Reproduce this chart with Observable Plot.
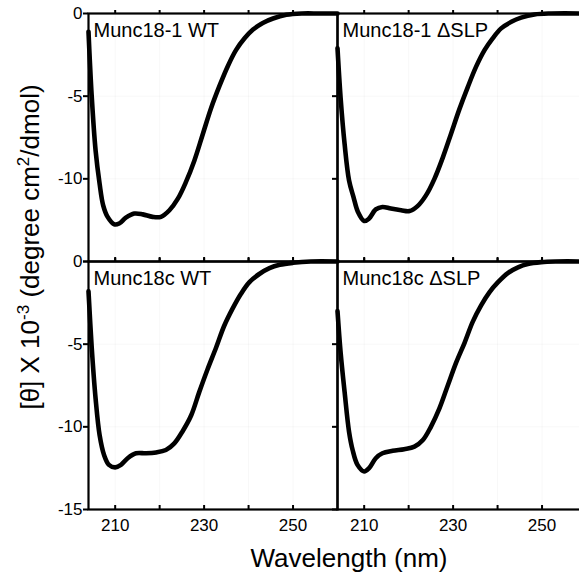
<!DOCTYPE html>
<html>
<head>
<meta charset="utf-8">
<script src="https://cdn.jsdelivr.net/npm/d3@7"></script>
<script src="https://cdn.jsdelivr.net/npm/@observablehq/plot@0.6"></script>
<style>
  body { margin: 0; background: #fff; }
  #wrap { width: 579px; height: 578px; overflow: hidden; position: relative; background: #fff; }
  #wrap svg { max-width: none !important; }
</style>
</head>
<body>
<div id="wrap"></div>
<script>
// Panels
const panelNames = ["Munc18-1 WT", "Munc18-1 ΔSLP", "Munc18c WT", "Munc18c ΔSLP"];
const panelCols = ["L", "R", "L", "R"];
const panelRows = ["T", "T", "B", "B"];

// Munc18-1 WT
const wl181WT = [204, 204.7, 205.6, 206.5, 207.3, 208.3, 209.8, 210.9, 212.4, 214.3, 216.2, 218.4, 220.3, 222.2, 224.1, 225.9, 227.8, 229.7, 231.6, 233.5, 235.3, 237.2, 239.1, 241.0, 243.2, 245.5, 248.5, 252, 256, 260];
const th181WT = [-1.1, -4.9, -8.3, -10.3, -11.6, -12.3, -12.75, -12.7, -12.35, -12.1, -12.15, -12.3, -12.3, -11.9, -11.2, -10.2, -8.9, -7.3, -5.7, -4.35, -3.2, -2.2, -1.5, -0.97, -0.57, -0.3, -0.08, 0, 0, 0];
// Munc18-1 ΔSLP
const wl181SLP = [204, 204.7, 205.6, 206.6, 207.6, 208.6, 210, 211.1, 212.6, 214.1, 216, 218.3, 220.2, 222, 223.9, 225.8, 227.7, 229.5, 231.4, 233.3, 235.2, 237.1, 238.9, 240.8, 243.1, 245.3, 248.3, 252, 260];
const th181SLP = [-2.1, -5.1, -7.9, -10.1, -11.1, -12.0, -12.55, -12.4, -11.85, -11.7, -11.8, -11.9, -11.95, -11.65, -11.0, -10.0, -8.7, -7.3, -5.8, -4.45, -3.2, -2.2, -1.5, -0.9, -0.5, -0.25, -0.06, 0, 0];
// Munc18c WT
const wl18cWT = [204, 204.7, 205.6, 206.5, 207.5, 208.6, 210, 211.3, 212.8, 214.7, 216.9, 219.2, 221.4, 223.3, 225.2, 227.1, 228.9, 230.8, 232.7, 234.5, 236.4, 238.3, 240.2, 242.5, 244.7, 247, 250, 254, 260];
const th18cWT = [-1.8, -5.1, -8.3, -10.5, -11.7, -12.3, -12.45, -12.3, -11.9, -11.6, -11.6, -11.55, -11.4, -11.0, -10.25, -9.3, -7.9, -6.5, -5.2, -3.9, -2.85, -1.95, -1.25, -0.74, -0.4, -0.2, -0.08, 0, 0];
// Munc18c ΔSLP
const wl18cSLP = [204, 204.7, 205.6, 206.6, 207.4, 208.5, 210, 211.1, 212.6, 214.1, 216.4, 219, 221.3, 223.2, 225, 226.9, 228.8, 230.7, 232.6, 234.4, 236.3, 238.2, 240.1, 242.3, 244.6, 246.8, 249.8, 253, 260];
const th18cSLP = [-3.0, -5.5, -7.9, -10.3, -11.4, -12.3, -12.7, -12.5, -11.9, -11.6, -11.45, -11.35, -11.2, -10.8, -10.0, -8.9, -7.5, -6.1, -4.9, -3.65, -2.65, -1.85, -1.25, -0.7, -0.35, -0.15, -0.04, 0, 0];

// Axes
const xDomain = [204, 260];
const yDomain = [-15, 0];
const xTicks = [210, 220, 230, 240, 250];
const xLabelTicks = [210, 230, 250];
const yTicks = [0, -5, -10, -15];
const yLabelsTop = [0, -5, -10];
const yLabelsBottom = [0, -5, -10, -15];
const xTitle = "Wavelength (nm)";

const seriesWl = [wl181WT, wl181SLP, wl18cWT, wl18cSLP];
const seriesTh = [th181WT, th181SLP, th18cWT, th18cSLP];

const lineData = [];
panelNames.forEach((name, i) => {
  seriesWl[i].forEach((w, j) => lineData.push({panel: name, col: panelCols[i], row: panelRows[i], wl: w, theta: seriesTh[i][j]}));
});
const panelData = panelNames.map((name, i) => ({name, col: panelCols[i], row: panelRows[i]}));
const yLabelData = [
  ...yLabelsTop.map(v => ({col: "L", row: "T", v})),
  ...yLabelsBottom.map(v => ({col: "L", row: "B", v}))
];

const font = "'Liberation Sans', Arial, Helvetica, sans-serif";

const chart = Plot.plot({
  width: 586,
  height: 578,
  marginLeft: 88,
  marginRight: 0,
  marginTop: 13,
  marginBottom: 69,
  style: {fontFamily: font, fontSize: "17px", background: "white", color: "black", overflow: "visible", maxWidth: "none"},
  x: {domain: xDomain},
  y: {domain: yDomain},
  fx: {domain: ["L", "R"], axis: null, padding: 0},
  fy: {domain: ["T", "B"], axis: null, padding: 0},
  marks: [
    Plot.gridX({ticks: xTicks, stroke: "#000", strokeOpacity: 0.03, facetAnchor: null}),
    Plot.gridY({ticks: yTicks, stroke: "#000", strokeOpacity: 0.03, facetAnchor: null}),
    Plot.line(lineData, {fx: "col", fy: "row", x: "wl", y: "theta", z: "panel", curve: "catmull-rom", stroke: "black", strokeWidth: 4.6, strokeLinejoin: "round", strokeLinecap: "round"}),
    Plot.frame({stroke: "black", strokeWidth: 2.2}),
    Plot.axisX({anchor: "top", ticks: xTicks, tickSize: 4, tickFormat: () => "", label: null, facetAnchor: null, strokeWidth: 2}),
    Plot.axisX({anchor: "bottom", ticks: xTicks, tickSize: -4, tickFormat: () => "", label: null, facetAnchor: null, strokeWidth: 2}),
    Plot.axisX({anchor: "bottom", ticks: xLabelTicks, tickSize: 0, tickPadding: 9, tickFormat: d => String(d), label: null, facetAnchor: "bottom", fontSize: 17}),
    Plot.axisY({anchor: "left", ticks: yTicks, tickSize: 5, tickFormat: () => "", label: null, facetAnchor: null, strokeWidth: 2}),
    Plot.text(yLabelData, {fx: "col", fy: "row", y: "v", text: d => String(d.v), frameAnchor: "left", dx: -6, textAnchor: "end", fontSize: 17}),
    Plot.text(panelData, {fx: "col", fy: "row", text: "name", frameAnchor: "top-left", dx: 5, dy: 9, lineAnchor: "top", textAnchor: "start", fontSize: 20})
  ]
});
chart.style.maxWidth = "none";

const svg = d3.select(chart);
// X title
svg.append("text")
  .attr("x", 349).attr("y", 567)
  .attr("text-anchor", "middle")
  .attr("font-family", font)
  .attr("font-size", 26)
  .attr("fill", "black")
  .text(xTitle);
// Y title with superscripts
const yt = svg.append("text")
  .attr("transform", "translate(39,247) rotate(-90)")
  .attr("text-anchor", "middle")
  .attr("font-family", font)
  .attr("font-size", 26)
  .attr("fill", "black");
yt.append("tspan").text("[θ] X 10");
yt.append("tspan").attr("dy", -10).attr("font-size", 17).text("-3");
yt.append("tspan").attr("dy", 10).text(" (degree cm");
yt.append("tspan").attr("dy", -10).attr("font-size", 17).text("2");
yt.append("tspan").attr("dy", 10).text("/dmol)");

document.getElementById("wrap").appendChild(chart);
</script>
</body>
</html>
